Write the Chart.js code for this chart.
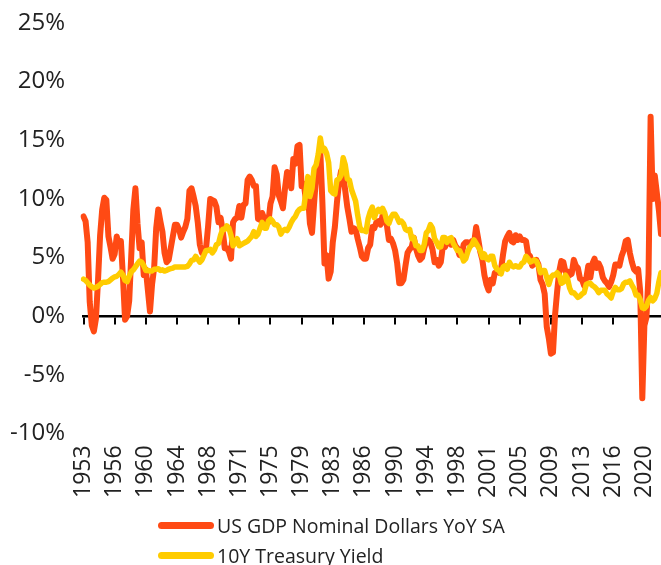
<!DOCTYPE html>
<html><head><meta charset="utf-8">
<script src="https://cdn.jsdelivr.net/npm/chart.js@4.4.0/dist/chart.umd.min.js"></script>
<style>
html,body{margin:0;padding:0;background:#fff;}
#wrap{position:relative;width:661px;height:565px;overflow:hidden;}
#c{position:absolute;left:0;top:0;}
#legend{position:absolute;left:158px;top:510px;font-family:'Open Sans';font-size:19.5px;color:#222;}
.item{display:flex;align-items:center;height:30px;white-space:nowrap;}
.sw{width:56px;height:7px;border-radius:4px;margin-right:3px;}
</style></head><body>
<div id="wrap"><canvas id="c" width="661" height="516"></canvas><div id="legend"></div></div>
<script>
const startYear = 1953;
const tickYears = ['1953','1956','1960','1964','1968','1971','1975','1979','1983','1986','1990','1994','1998','2001','2005','2009','2013','2016','2020'];
const seriesNames = ['US GDP Nominal Dollars YoY SA','10Y Treasury Yield'];
const seriesColors = ['#FF4A14','#FFCC00'];
const gdpYoY = [
8.5,8.1,6.3,1.2, -0.8,-1.3,-0.2,3.1, 6.9,9.1,10.1,9.9, 6.8,5.9,4.9,5.3,
6.8,6.0,6.4,3.3, -0.3,0.0,1.3,5.2, 9.1,10.9,7.9,5.8, 6.3,3.5,4.0,2.2,
0.4,2.7,4.1,7.5, 9.1,8.1,7.2,5.4, 4.6,4.8,5.8,6.8, 7.8,7.8,7.4,6.7,
7.2,7.6,8.3,10.7, 10.9,10.2,9.4,8.0, 6.1,5.4,5.6,5.8, 7.7,10.0,9.9,9.8,
9.3,8.0,8.4,7.3, 5.8,5.8,5.5,4.9, 8.0,8.3,8.4,9.4, 8.4,9.5,9.6,11.6,
11.9,11.6,11.1,11.1, 8.3,8.2,8.8,8.3, 8.4,8.0,9.6,10.2, 12.7,12.1,10.3,9.8,
9.2,10.9,12.3,11.9, 10.9,13.4,13.0,14.5, 14.6,11.1,11.3,10.0, 10.5,7.9,7.1,9.6,
12.0,13.1,14.0,9.7, 4.5,5.2,3.2,3.8, 6.3,7.6,9.7,11.4, 12.4,12.0,10.7,9.3,
8.3,7.2,7.5,7.4, 6.6,5.9,5.1,4.9, 4.9,5.8,6.1,7.6, 7.5,8.0,8.1,7.8,
8.6,8.1,7.8,6.5, 6.6,6.2,5.6,4.5, 2.8,2.8,3.1,4.3, 5.4,5.7,5.9,6.7,
5.8,5.2,4.8,5.0, 5.8,6.4,6.5,6.3, 5.7,4.6,4.8,4.3, 4.6,6.0,5.9,6.3,
6.4,6.1,6.5,6.0, 5.8,5.2,5.2,6.1, 6.3,6.3,6.2,6.4, 6.2,7.6,6.6,5.5,
4.8,3.5,2.7,2.2, 3.1,2.8,3.7,3.8, 3.7,4.0,5.3,6.4, 6.8,7.1,6.4,6.3,
6.9,6.5,6.8,6.5, 6.5,6.4,5.3,5.1, 4.3,4.5,4.8,4.4, 3.1,2.7,1.9,-0.9,
-1.9,-3.2,-3.1,0.1, 2.1,3.8,4.7,4.6, 3.8,3.8,3.5,3.6, 4.8,4.3,4.1,3.2,
3.1,2.6,3.2,4.3, 3.3,4.5,4.9,4.1, 4.5,4.1,3.3,3.0, 2.8,2.5,2.9,3.5,
4.4,4.4,4.3,5.1, 5.6,6.4,6.5,5.4, 4.6,4.0,3.8,4.0, 2.1,-7.0,-0.8,-0.1,
3.6,17.0,10.0,12.0, 10.5,9.0,7.0
];
const treasury10Y = [
3.15,3.05,2.85,2.65, 2.5,2.4,2.45,2.55, 2.7,2.85,2.9,2.9, 2.95,3.1,3.25,3.35,
3.4,3.55,3.75,3.5, 3.05,2.95,3.4,3.8, 3.95,4.2,4.45,4.7, 4.6,4.3,3.9,3.9,
3.85,3.85,4.0,4.0, 4.05,3.9,3.95,3.85, 3.9,4.0,4.05,4.1, 4.2,4.2,4.2,4.2,
4.2,4.2,4.25,4.45, 4.75,4.8,5.1,4.85, 4.6,4.8,5.2,5.6, 5.6,5.7,5.4,5.65,
6.1,6.2,6.9,7.4, 7.4,7.7,7.5,6.9, 6.0,6.3,6.6,6.0, 6.1,6.2,6.3,6.4,
6.6,6.8,7.2,6.8, 7.0,7.5,8.0,7.5, 7.5,8.1,8.3,8.1, 7.8,7.8,7.6,7.0,
7.3,7.4,7.3,7.6, 8.0,8.3,8.5,8.9, 9.1,9.2,9.2,10.5, 11.9,10.2,10.9,12.6,
12.9,13.8,15.2,14.1, 14.3,13.9,13.1,10.7, 10.5,10.4,11.6,11.7, 12.0,13.5,12.9,11.7,
11.6,10.8,10.3,9.8, 8.6,7.6,7.3,7.3, 7.2,8.3,8.9,9.3, 8.4,8.9,9.1,8.9,
9.2,8.8,8.1,7.9, 8.4,8.7,8.7,8.4, 8.0,8.1,7.9,7.4, 7.3,7.4,6.6,6.7,
6.0,6.0,5.6,5.6, 6.1,7.1,7.3,7.8, 7.5,6.6,6.3,5.9, 5.9,6.7,6.7,6.3,
6.6,6.7,6.2,5.9, 5.6,5.6,5.2,4.7, 4.9,5.5,5.9,6.1, 6.5,6.2,5.9,5.6,
5.0,5.3,4.9,4.8, 5.1,5.1,4.3,4.0, 3.9,3.6,4.2,4.3, 4.0,4.6,4.3,4.2,
4.3,4.2,4.2,4.5, 4.6,5.1,4.9,4.6, 4.7,4.8,4.7,4.3, 3.7,3.9,3.9,3.3,
2.7,3.3,3.5,3.5, 3.7,3.5,2.8,2.9, 3.5,3.2,2.4,2.0, 2.0,1.8,1.6,1.7,
1.9,2.0,2.7,2.8, 2.8,2.6,2.5,2.3, 2.0,2.2,2.2,2.2, 1.9,1.75,1.55,2.1,
2.45,2.25,2.25,2.35, 2.75,2.9,2.9,3.0, 2.65,2.35,1.8,1.8, 1.4,0.7,0.65,0.85,
1.35,1.6,1.3,1.5, 1.95,2.95,3.7
];
const quarters = gdpYoY.map((_, i) => (startYear + Math.floor(i / 4)) + 'Q' + (i % 4 + 1));
const tickEvery = 15;
const FONT = 'Open Sans';
const TXT = '#222';

new Chart(document.getElementById('c'), {
  type: 'line',
  data: {
    labels: quarters,
    datasets: [
      {label: seriesNames[0], data: gdpYoY, borderColor: seriesColors[0], backgroundColor: seriesColors[0], borderWidth: 6, pointRadius: 0, tension: 0, borderJoinStyle: 'round', borderCapStyle: 'round', order: 2},
      {label: seriesNames[1], data: treasury10Y, borderColor: seriesColors[1], backgroundColor: seriesColors[1], borderWidth: 5.5, pointRadius: 0, tension: 0, borderJoinStyle: 'round', borderCapStyle: 'round', order: 1}
    ]
  },
  options: {
    responsive: false,
    animation: false,
    layout: {padding: {top: 23, right: 0, bottom: 6, left: 8}},
    plugins: {legend: {display: false}, tooltip: {enabled: false}},
    scales: {
      x: {
        type: 'category', position: 'bottom', offset: false,
        grid: {display: false, drawTicks: false}, border: {display: false},
        ticks: {autoSkip: false, maxRotation: 90, minRotation: 90, padding: 12, color: TXT,
          font: {family: FONT, size: 23},
          callback: (v, i) => (i % tickEvery === 0 ? tickYears[i / tickEvery] : '')},
        afterFit: (s) => { s.paddingRight = 0; s.paddingLeft = 0; }
      },
      x0: {
        type: 'category', position: {y: 0}, offset: false,
        grid: {drawOnChartArea: false, drawTicks: true, tickLength: 7, lineWidth: 2,
          color: (ctx) => (ctx.index % tickEvery === 0 ? '#000' : 'rgba(0,0,0,0)')},
        border: {display: true, color: '#000', width: 2.5},
        ticks: {display: false, autoSkip: false},
        afterFit: (s) => { s.paddingRight = 0; s.paddingLeft = 0; }
      },
      y: {
        min: -10, max: 25,
        grid: {display: false, drawTicks: false}, border: {display: false},
        ticks: {stepSize: 5, padding: 18.5, color: TXT, font: {family: FONT, size: 24},
          callback: (v) => v + '%'},
        afterFit: (s) => { s.paddingTop = 0; s.paddingBottom = 0; s.width = 75.5; }
      }
    }
  }
});

const lg = document.getElementById('legend');
seriesNames.forEach((n, i) => {
  const it = document.createElement('div'); it.className = 'item';
  const sw = document.createElement('div'); sw.className = 'sw'; sw.style.background = seriesColors[i];
  const tx = document.createElement('span'); tx.textContent = n;
  it.appendChild(sw); it.appendChild(tx); lg.appendChild(it);
});
</script>
</body></html>
